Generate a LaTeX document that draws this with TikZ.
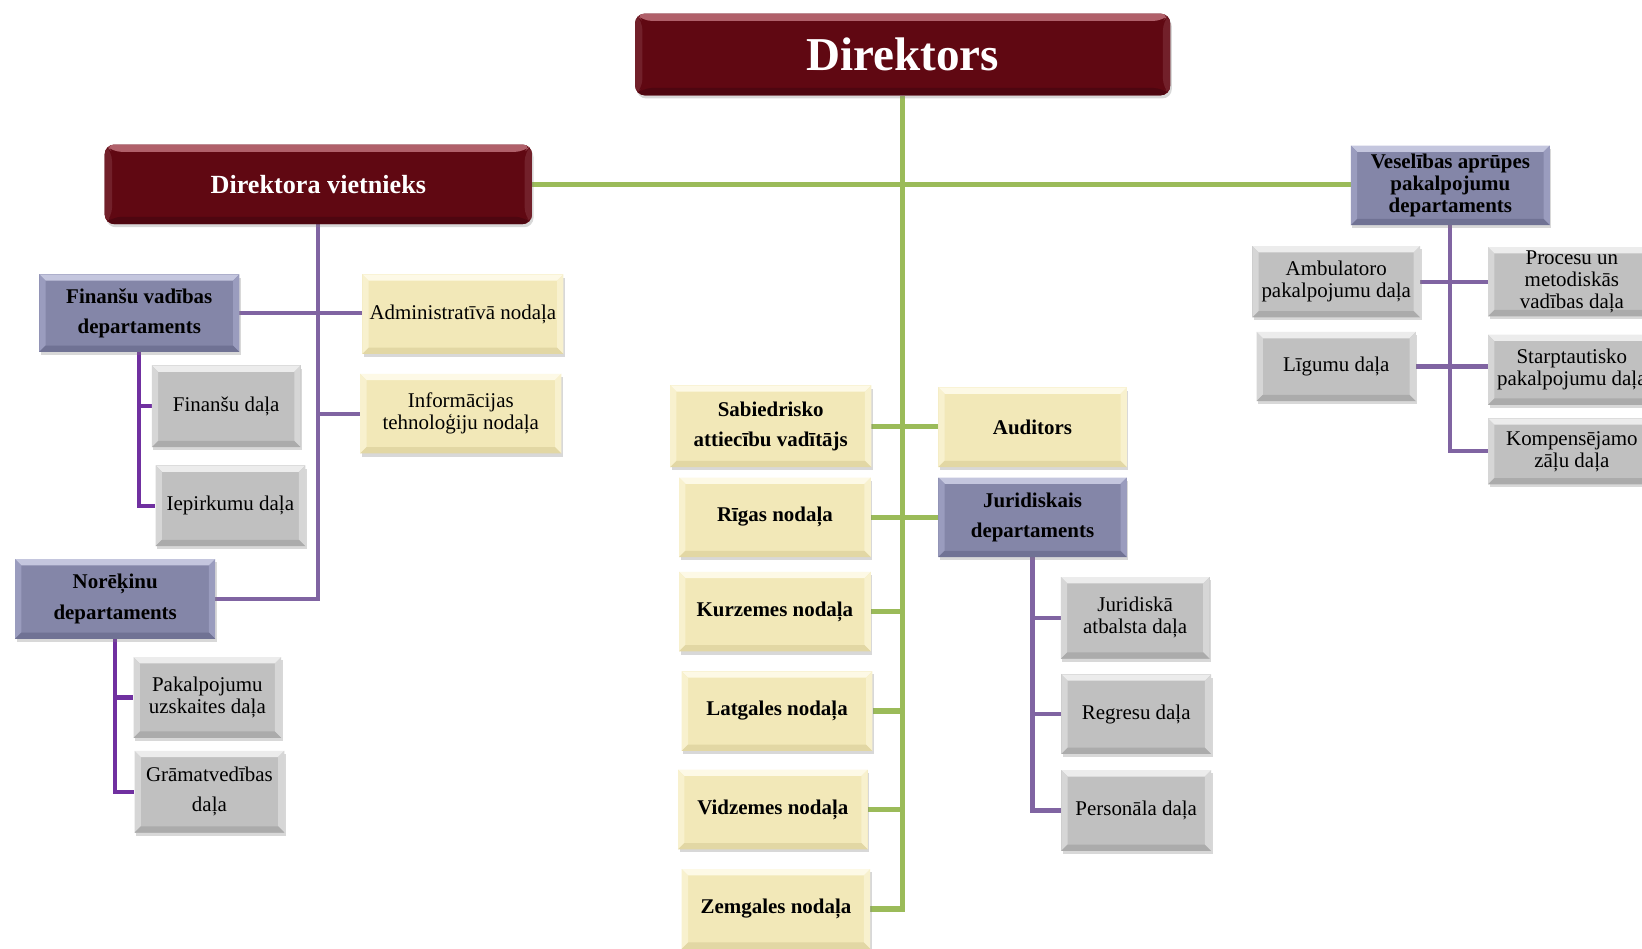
\documentclass[tikz,border=0pt]{standalone}
\usepackage{fontspec}
\setmainfont{Liberation Serif}
\usetikzlibrary{shadows}
\pgfdeclarelayer{bg}
\pgfsetlayers{bg,main}
\definecolor{maroonF}{HTML}{600812}
\definecolor{maroonL}{HTML}{B0606A}
\definecolor{maroonM}{HTML}{72202A}
\definecolor{maroonD}{HTML}{4E0610}
\definecolor{slateF}{HTML}{8486A8}
\definecolor{slateL}{HTML}{C4C6DE}
\definecolor{slateM}{HTML}{9A9CBE}
\definecolor{slateD}{HTML}{707294}
\definecolor{creamF}{HTML}{F2E8B8}
\definecolor{creamL}{HTML}{FDF9E6}
\definecolor{creamM}{HTML}{F8F1CE}
\definecolor{creamD}{HTML}{E2D7A4}
\definecolor{greyF}{HTML}{C0C0C0}
\definecolor{greyL}{HTML}{ECECEC}
\definecolor{greyM}{HTML}{D6D6D6}
\definecolor{greyD}{HTML}{ABABAB}
\definecolor{gline}{HTML}{9BBB59}
\definecolor{pline}{HTML}{8064A2}
\definecolor{pdark}{HTML}{7030A0}
\tikzset{
  bevelbox/.style n args={5}{
    fill=#1, draw=none, inner sep=2pt, align=center, anchor=center,
    drop shadow={shadow xshift=1.5pt, shadow yshift=-3pt, opacity=0.3},
    path picture={
      \coordinate (NW) at (path picture bounding box.north west);
      \coordinate (NE) at (path picture bounding box.north east);
      \coordinate (SW) at (path picture bounding box.south west);
      \coordinate (SE) at (path picture bounding box.south east);
      \fill[#2] (NW) -- (NE) -- ([xshift=-#5,yshift=-#5]NE) -- ([xshift=#5,yshift=-#5]NW) -- cycle;
      \fill[#3] (NW) -- ([xshift=#5,yshift=-#5]NW) -- ([xshift=#5,yshift=#5]SW) -- (SW) -- cycle;
      \fill[#3] (NE) -- (SE) -- ([xshift=-#5,yshift=#5]SE) -- ([xshift=-#5,yshift=-#5]NE) -- cycle;
      \fill[#4] (SW) -- ([xshift=#5,yshift=#5]SW) -- ([xshift=-#5,yshift=#5]SE) -- (SE) -- cycle;
    }
  },
  maroonbox/.style={bevelbox={maroonF}{maroonL}{maroonM}{maroonD}{7pt}, rounded corners=9pt, text=white},
  slatebox/.style={bevelbox={slateF}{slateL}{slateM}{slateD}{6pt}, font=\fontsize{20}{29}\selectfont\bfseries},
  slatetight/.style={slatebox, font=\fontsize{20}{21}\selectfont\bfseries},
  yelbold/.style={bevelbox={creamF}{creamL}{creamM}{creamD}{6pt}, font=\fontsize{20}{29}\selectfont\bfseries},
  yelreg/.style={bevelbox={creamF}{creamL}{creamM}{creamD}{6pt}, font=\fontsize{20}{21}\selectfont},
  greybox/.style={bevelbox={greyF}{greyL}{greyM}{greyD}{6pt}, font=\fontsize{20}{21}\selectfont},
  greywide/.style={greybox, font=\fontsize{20}{29}\selectfont},
  gconn/.style={draw=gline, line width=5pt},
  pconn/.style={draw=pline, line width=4pt},
  dconn/.style={draw=pdark, line width=4pt}
}
\begin{document}
\begin{tikzpicture}[x=1pt,y=-1pt]
\useasboundingbox (0,0) rectangle (1568,906);
\clip (0,0) rectangle (1568,906);
% top level
\node[maroonbox, minimum width=511pt, minimum height=78pt, font=\fontsize{45}{50}\selectfont\bfseries] (dir) at (862,52) {Direktors};
\node[maroonbox, minimum width=408pt, minimum height=76pt, font=\fontsize{25}{28}\selectfont\bfseries] (dv) at (304,176) {Direktora vietnieks};
\node[slatetight, minimum width=190pt, minimum height=76pt] (ves) at (1385,177) {Veselības aprūpes\\pakalpojumu\\departaments};
% left branch
\node[slatebox, minimum width=191pt, minimum height=74pt] (fin) at (133,299) {Finanšu vadības\\departaments};
\node[yelreg, minimum width=192pt, minimum height=76pt] (adm) at (442,300) {Administratīvā nodaļa};
\node[yelreg, minimum width=192pt, minimum height=76pt] (it) at (440,395) {Informācijas\\tehnoloģiju nodaļa};
\node[slatebox, minimum width=191pt, minimum height=76pt] (nor) at (110,572) {Norēķinu\\departaments};
\node[greybox, minimum width=142pt, minimum height=78pt] (fd) at (216,388) {Finanšu daļa};
\node[greybox, minimum width=143pt, minimum height=77pt] (iep) at (220,483) {Iepirkumu daļa};
\node[greybox, minimum width=141pt, minimum height=77pt] (pak) at (198,666) {Pakalpojumu\\uzskaites daļa};
\node[greywide, minimum width=143pt, minimum height=78pt] (gram) at (200,756) {Grāmatvedības\\daļa};
% right branch
\node[greybox, minimum width=160pt, minimum height=68pt] (amb) at (1276,269) {Ambulatoro\\pakalpojumu daļa};
\node[greybox, minimum width=160pt, minimum height=66pt] (proc) at (1501,269) {Procesu un\\metodiskās\\vadības daļa};
\node[greybox, minimum width=152pt, minimum height=66pt] (lig) at (1276,350) {Līgumu daļa};
\node[greybox, minimum width=160pt, minimum height=67pt] (star) at (1501,353) {Starptautisko\\pakalpojumu daļa};
\node[greybox, minimum width=160pt, minimum height=63pt] (komp) at (1501,431) {Kompensējamo\\zāļu daļa};
% centre
\node[yelbold, minimum width=192pt, minimum height=78pt] (sab) at (736,407) {Sabiedrisko\\attiecību vadītājs};
\node[yelbold, minimum width=180pt, minimum height=76pt] (aud) at (986,408) {Auditors};
\node[yelbold, minimum width=183pt, minimum height=76pt] (rig) at (740,494) {Rīgas nodaļa};
\node[slatebox, minimum width=180pt, minimum height=76pt] (jur) at (986,494) {Juridiskais\\departaments};
\node[yelbold, minimum width=183pt, minimum height=76pt] (kur) at (740,584) {Kurzemes nodaļa};
\node[yelbold, minimum width=182pt, minimum height=76pt] (lat) at (742,679) {Latgales nodaļa};
\node[yelbold, minimum width=181pt, minimum height=76pt] (vid) at (738,773) {Vidzemes nodaļa};
\node[yelbold, minimum width=180pt, minimum height=76pt] (zem) at (741,868) {Zemgales nodaļa};
\node[greybox, minimum width=142pt, minimum height=78pt] (ja) at (1084,590) {Juridiskā\\atbalsta daļa};
\node[greybox, minimum width=143pt, minimum height=76pt] (reg) at (1085,682) {Regresu daļa};
\node[greybox, minimum width=143pt, minimum height=77pt] (pers) at (1085,774) {Personāla daļa};
\coordinate (gtb) at (dir.south |- zem.east);
\begin{pgfonlayer}{bg}
\fill[white] (0,0) rectangle (1568,906);
% green
\draw[gconn] (dir.south) -- (gtb) -- (zem.east);
\draw[gconn] (dv.east) -- (dv.east -| ves.west);
\draw[gconn] (sab.east) -- (sab.east -| aud.west);
\draw[gconn] (rig.east) -- (rig.east -| jur.west);
\draw[gconn] (kur.east) -- (kur.east -| dir.south);
\draw[gconn] (lat.east) -- (lat.east -| dir.south);
\draw[gconn] (vid.east) -- (vid.east -| dir.south);
% deputy
\draw[pconn] (dv.south) -- (dv.south |- nor.east) -- (nor.east);
\draw[pconn] (fin.east) -- (fin.east -| adm.west);
\draw[pconn] (it.west -| dv.south) -- (it.west);
\draw[dconn] (fin.south) -- (fin.south |- iep.west) -- (iep.west);
\draw[dconn] (fin.south |- fd.west) -- (fd.west);
\draw[dconn] (nor.south) -- (nor.south |- gram.west) -- (gram.west);
\draw[dconn] (nor.south |- pak.west) -- (pak.west);
% health
\draw[pconn] (ves.south) -- (ves.south |- komp.west) -- (komp.west);
\draw[pconn] (amb.east) -- (amb.east -| proc.west);
\draw[pconn] (lig.east) -- (lig.east -| star.west);
% legal
\draw[pconn] (jur.south) -- (jur.south |- pers.west) -- (pers.west);
\draw[pconn] (jur.south |- ja.west) -- (ja.west);
\draw[pconn] (jur.south |- reg.west) -- (reg.west);
\end{pgfonlayer}
\end{tikzpicture}
\end{document}
